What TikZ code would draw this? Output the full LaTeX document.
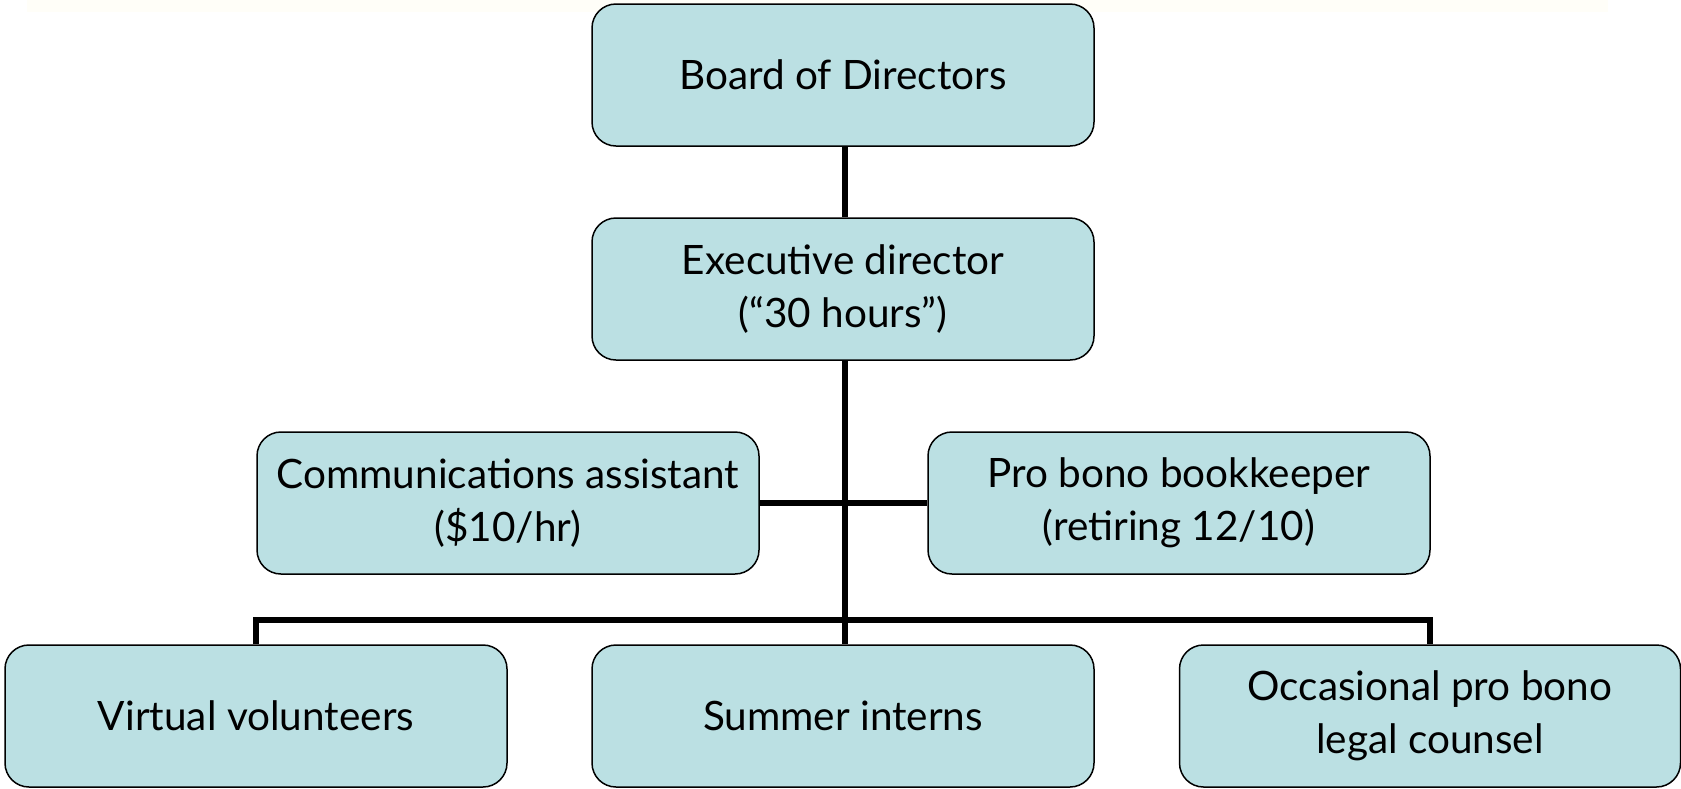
\documentclass[tikz,border=0pt]{standalone}
\usepackage{fontspec}
\setmainfont{Lato}
\definecolor{boxfill}{HTML}{BBE0E3}
\definecolor{band}{HTML}{FFFEF8}
\begin{document}
\begin{tikzpicture}[x=1pt,y=-1pt,
  orgbox/.style={draw=black, line width=1.5pt, fill=boxfill, rounded corners=24pt,
    minimum width=502pt, minimum height=142pt, align=center, inner sep=0pt,
    font=\fontsize{40.5}{53}\selectfont, text=black},
  link/.style={draw=black, line width=5.5pt}]
\useasboundingbox[fill=white] (0,0) rectangle (1681,788);
\fill[band] (27,0) rectangle (1608,12);
\node[orgbox] (board) at (843,75) {Board of Directors};
\node[orgbox] (exec) at (843,289) {Executive director\\ (“30 hours”)};
\node[orgbox] (comm) at (508,503) {Communications assistant\\ (\$10/hr)};
\node[orgbox] (pro) at (1179,503) {Pro bono bookkeeper\\ (retiring 12/10)};
\node[orgbox] (virt) at (256,716) {Virtual volunteers};
\node[orgbox] (summer) at (843,716) {Summer interns};
\node[orgbox, minimum width=501pt] (occ) at (1430,716) {Occasional pro bono\\ legal counsel};
\coordinate (bus) at (845,620);
\draw[link] (board.south -| bus) -- (exec.north -| bus);
\draw[link] (exec.south -| bus) -- (summer.north -| bus);
\draw[link] (comm.east) -- (pro.west);
\draw[link] (virt.north) |- (bus) -| (occ.north);
\end{tikzpicture}
\end{document}
